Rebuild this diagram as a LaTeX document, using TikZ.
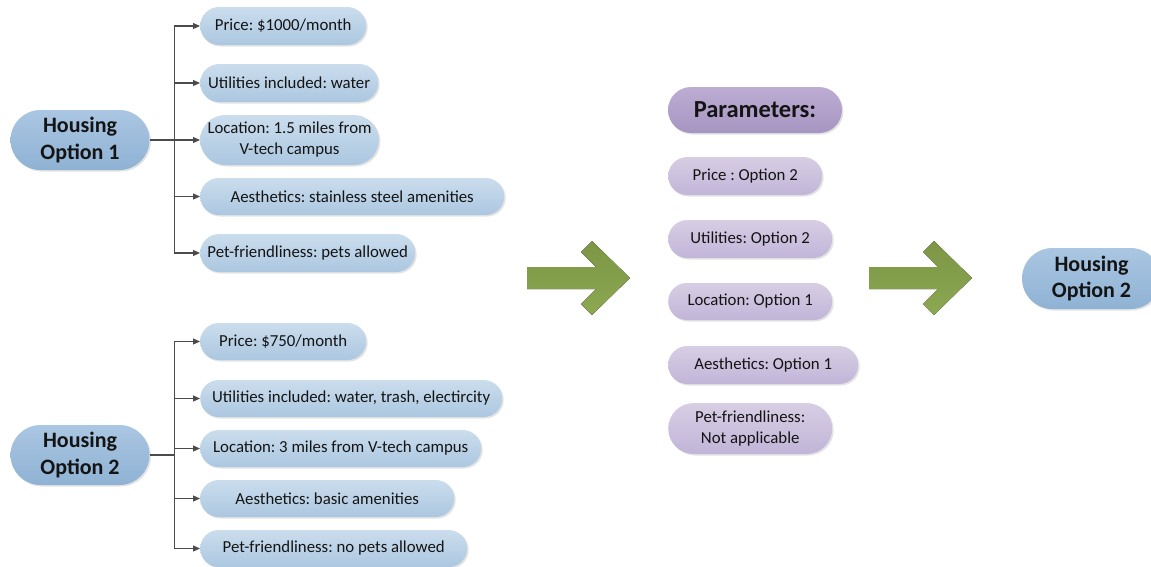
\documentclass[tikz,border=0pt]{standalone}
\usepackage{fontspec}
\setmainfont{Carlito}
\usetikzlibrary{arrows.meta,shadows,shapes.misc}
\definecolor{hubT}{RGB}{170,198,226}
\definecolor{hubB}{RGB}{143,178,212}
\definecolor{leafT}{RGB}{203,221,237}
\definecolor{leafB}{RGB}{171,199,224}
\definecolor{headT}{RGB}{189,173,211}
\definecolor{headB}{RGB}{166,149,193}
\definecolor{parT}{RGB}{215,206,228}
\definecolor{parB}{RGB}{193,181,216}
\definecolor{arrT}{RGB}{124,150,69}
\definecolor{arrB}{RGB}{140,168,82}
\definecolor{lineC}{RGB}{75,75,75}
\definecolor{txt}{RGB}{20,20,20}
\frenchspacing
\begin{document}
\begin{tikzpicture}[x=1pt,y=-1pt,
  pill/.style={rounded rectangle, inner sep=0pt, text=txt, align=center,
    drop shadow={shadow xshift=1.5pt, shadow yshift=-1.5pt, opacity=0.22}},
  leaf/.style={pill, top color=leafT, bottom color=leafB,
    font=\fontsize{16.8}{21}\selectfont, minimum height=38pt, anchor=west},
  hub/.style={pill, top color=hubT, bottom color=hubB,
    font=\fontsize{22}{26.5}\selectfont\bfseries, minimum width=139pt, minimum height=60pt},
  param/.style={pill, top color=parT, bottom color=parB,
    font=\fontsize{16.8}{21.5}\selectfont, minimum height=38pt, anchor=west},
  head/.style={pill, top color=headT, bottom color=headB,
    font=\fontsize{24.5}{28}\selectfont\bfseries, minimum width=174pt, minimum height=46pt},
  conn/.style={draw=lineC, line width=1.1pt, -{Triangle[length=7pt,width=6pt]}},
  plain/.style={draw=lineC, line width=1.1pt},
  bigarrow/.style={top color=arrT, bottom color=arrB, draw=none}
]
\useasboundingbox (0,0) rectangle (1151,566);

% ---- Option 1 tree
\node[hub] (ho1) at (80,140) {Housing\\Option 1};
\node[leaf, minimum width=166pt] (a1) at (200,26) {Price: \$1000/month};
\node[leaf, minimum width=178pt] (a2) at (200,83) {Utilities included: water};
\node[leaf, minimum width=178pt, minimum height=50pt] (a3) at (200,140) {Location: 1.5 miles from\\V-tech campus};
\node[leaf, minimum width=304pt, minimum height=37pt] (a4) at (200,196.5) {Aesthetics: stainless steel amenities};
\node[leaf, minimum width=215pt] (a5) at (200,253) {Pet-friendliness: pets allowed};
\coordinate (t1) at (174.5,140);
\draw[plain] (ho1.east) -- (t1);
\foreach \n in {a1,a2,a3,a4,a5} \draw[conn] (t1) |- (\n.west);

% ---- Option 2 tree
\node[hub] (ho2) at (80,455) {Housing\\Option 2};
\node[leaf, minimum width=166pt, minimum height=37pt] (b1) at (200,341.5) {Price: \$750/month};
\node[leaf, minimum width=302pt, minimum height=37pt] (b2) at (200,398.5) {Utilities included: water, trash, electircity};
\node[leaf, minimum width=281pt, minimum height=37pt] (b3) at (200,448.5) {Location: 3 miles from V-tech campus};
\node[leaf, minimum width=254pt, minimum height=37pt] (b4) at (200,498.5) {Aesthetics: basic amenities};
\node[leaf, minimum width=267pt, minimum height=37pt] (b5) at (200,548.5) {Pet-friendliness: no pets allowed};
\coordinate (t2) at (174.5,455);
\draw[plain] (ho2.east) -- (t2);
\foreach \n in {b1,b2,b3,b4,b5} \draw[conn] (t2) |- (\n.west);

% ---- big green arrows
\foreach \x in {527,869}{
  \fill[bigarrow] (\x,267) -- ++(69,0) -- ++(-15,-15) -- ++(11,-11) -- ++(38,37)
    -- ++(-38,37) -- ++(-11,-11) -- ++(15,-15) -- (\x,289) -- cycle;
}

% ---- Parameters
\node[head] (pm) at (755,110) {Parameters:};
\node[param, minimum width=154pt] (p1) at (668,176) {Price : Option 2};
\node[param, minimum width=164pt] (p2) at (668,239) {Utilities: Option 2};
\node[param, minimum width=164pt, minimum height=37pt] (p3) at (668,301.5) {Location: Option 1};
\node[param, minimum width=190pt] (p4) at (668,365) {Aesthetics: Option 1};
\node[param, minimum width=164pt, minimum height=51pt] (p5) at (668,428.5) {Pet-friendliness:\\Not applicable};

% ---- result
\node[hub, minimum height=61pt] (res) at (1091.5,278.5) {Housing\\Option 2};
\end{tikzpicture}
\end{document}
